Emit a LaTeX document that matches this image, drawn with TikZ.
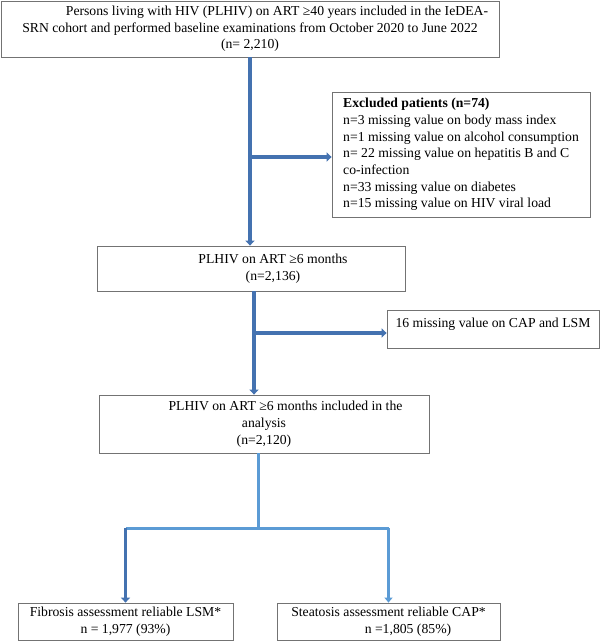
\documentclass[tikz,border=0pt]{standalone}
\usepackage{fontspec}
\setmainfont{Liberation Serif}
\usetikzlibrary{positioning, arrows.meta, calc}
\definecolor{flowblue}{RGB}{68,114,176}
\definecolor{linkblue}{RGB}{91,155,213}

\begin{document}
\begin{tikzpicture}[x=1pt, y=1pt,
	every node/.style={font=\fontsize{13.7}{16.7}\selectfont},
	box/.style={draw=black!55, line width=0.8pt, rectangle, inner sep=2pt, align=center},
	flow/.style={draw=flowblue, line width=3.5pt, -{Triangle[length=5pt, width=9pt]}},
	link/.style={draw=linkblue, line width=3pt},
	linkarrow/.style={link, -{Triangle[length=5pt, width=8pt]}}]
	\useasboundingbox (0, 0) rectangle (600, -641);

	\node[box, minimum width=498, minimum height=56] (cohort) at (250, -29) {\hspace*{54pt}Persons living with HIV (PLHIV) on ART ≥40 years included in the IeDEA-\\SRN cohort and performed baseline examinations from October 2020 to June 2022\\(n= 2,210)};
	\node[box, minimum width=258, minimum height=125, align=left] (excluded) at (461, -154.5) {\textbf{Excluded patients (n=74)}\\n=3 missing value on body mass index\\n=1 missing value on alcohol consumption\\n= 22 missing value on hepatitis B and C\\co-infection\\n=33 missing value on diabetes\\n=15 missing value on HIV viral load};
	\node[box, minimum width=308, minimum height=45] (art6) at (251, -268.5) {\hspace*{44pt}PLHIV on ART ≥6 months\\\hspace*{44pt}(n=2,136)};
	\node[box, minimum width=212, minimum height=38, text depth=13pt] (missing) at (493, -329) {16 missing value on CAP and LSM};
	\node[box, minimum width=330, minimum height=58] (analysis) at (264, -424) {\hspace*{43pt}PLHIV on ART ≥6 months included in the\\analysis\\(n=2,120)};
	\node[box, minimum width=215, minimum height=37] (fibrosis) at (125.5, -621.5) {Fibrosis assessment reliable LSM*\\n = 1,977 (93\%)};
	\node[box, minimum width=223, minimum height=37] (steatosis) at (388.5, -621.5) {Steatosis assessment reliable CAP*\\\hspace*{39pt}n =1,805 (85\%)};

	\coordinate (split) at ($(analysis.south) + (-6, -75)$);

	\draw[flow] (cohort.south) -- (cohort.south |- art6.north);
	\draw[flow] ([yshift=-2.5]cohort.south |- excluded.west) -- ([yshift=-2.5]excluded.west);
	\draw[flow] ([xshift=3]art6.south) -- ([xshift=3]art6.south |- analysis.north);
	\draw[flow] ([xshift=3, yshift=-4]art6.south |- missing.west) -- ([yshift=-4]missing.west);
	\draw[link] ([xshift=-6]analysis.south) -- (split);
	\draw[link] (fibrosis.north |- split) -- (steatosis.north |- split);
	\draw[flow] (fibrosis.north |- split) -- (fibrosis.north);
	\draw[linkarrow] (steatosis.north |- split) -- (steatosis.north);
\end{tikzpicture}
\end{document}
